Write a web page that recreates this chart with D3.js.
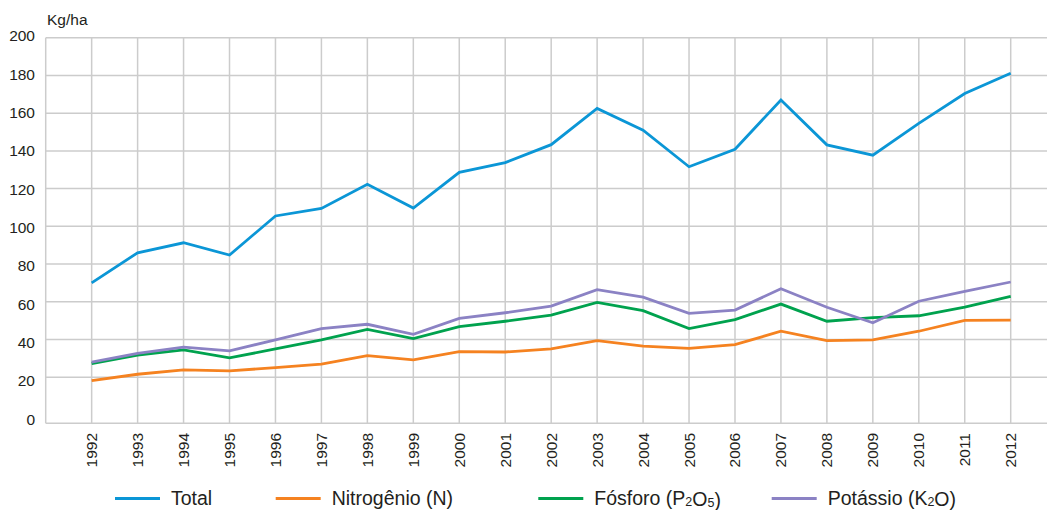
<!DOCTYPE html>
<html lang="pt">
<head>
<meta charset="UTF-8">
<title>Kg/ha</title>
<script src="https://d3js.org/d3.v7.min.js"></script>
<style>
    body { margin: 0; background: #fff; }
    svg { display: block; font-family: "Liberation Sans", Arial, sans-serif; }
    .grid line { stroke: #cccccc; stroke-width: 1.5; }
    .lbl { fill: #231f20; }
</style>
</head>
<body>
<svg id="chart" width="1047" height="510"></svg>
<script>
    const years = [1992, 1993, 1994, 1995, 1996, 1997, 1998, 1999, 2000, 2001, 2002,
                   2003, 2004, 2005, 2006, 2007, 2008, 2009, 2010, 2011, 2012];
    const total     = [70, 86, 91.3, 84.8, 105.5, 109.5, 122.3, 109.7, 128.6, 133.8, 143.3,
                       162.5, 151, 131.6, 140.9, 167, 143.2, 137.7, 154.6, 170.4, 181.2];
    const nitrogenio = [18.2, 21.6, 23.9, 23.4, 25.1, 27, 31.5, 29.2, 33.6, 33.4, 35,
                        39.4, 36.5, 35.3, 37.3, 44.4, 39.4, 39.8, 44.4, 50.2, 50.3];
    const fosforo   = [27.3, 31.8, 34.5, 30.3, 35, 39.8, 45.4, 40.5, 46.8, 49.7, 53,
                       59.7, 55.3, 45.8, 50.6, 58.8, 49.7, 51.6, 52.6, 57.2, 62.9];
    const potassio  = [28, 32.7, 36, 34, 39.8, 45.8, 48.1, 42.8, 51.2, 54.2, 57.7,
                       66.4, 62.5, 53.9, 55.6, 66.9, 57.1, 48.9, 60.3, 65.5, 70.5];
    const yTicks = [0, 20, 40, 60, 80, 100, 120, 140, 160, 180, 200];

    const series = [
        { name: "Total", values: total, color: "#0b96d6" },
        { name: "Nitrogênio (N)", values: nitrogenio, color: "#f58220" },
        { name: "Fósforo (P₂O₅)", values: fosforo, color: "#00a24e" },
        { name: "Potássio (K₂O)", values: potassio, color: "#8b82c4" }
    ];

    const svg = d3.select("#chart");
    const left = 45.7, right = 1047, bottom = 423.3;

    const x = d3.scaleLinear().domain([1991, 2012]).range([left, 1010.7]);
    const y = d3.scaleLinear().domain([0, 200]).range([415, 37.7]);
    // tick labels sit on a slightly wider spacing than the gridlines
    const yLab = d3.scaleLinear().domain([0, 200]).range([419.3, 35.8]);

    const grid = svg.append("g").attr("class", "grid");
    grid.selectAll("line.h")
        .data(yTicks.filter(d => d > 0))
        .enter().append("line")
        .attr("class", "h")
        .attr("x1", left).attr("x2", right)
        .attr("y1", d => y(d)).attr("y2", d => y(d));
    grid.selectAll("line.v")
        .data([1991].concat(years))
        .enter().append("line")
        .attr("class", "v")
        .attr("x1", d => x(d)).attr("x2", d => x(d))
        .attr("y1", y(200)).attr("y2", bottom);
    grid.append("line")
        .attr("x1", left).attr("x2", right)
        .attr("y1", bottom).attr("y2", bottom);

    svg.append("g").selectAll("text")
        .data(yTicks)
        .enter().append("text")
        .attr("class", "lbl")
        .attr("x", 35)
        .attr("y", d => yLab(d))
        .attr("dy", "0.35em")
        .attr("text-anchor", "end")
        .attr("font-size", 15.5)
        .text(d => d);

    svg.append("text")
        .attr("class", "lbl")
        .attr("x", 47).attr("y", 25)
        .attr("font-size", 15.5)
        .text("Kg/ha");

    svg.append("g").selectAll("text")
        .data(years)
        .enter().append("text")
        .attr("class", "lbl")
        .attr("transform", d => `translate(${x(d) + 5.5},433) rotate(-90)`)
        .attr("text-anchor", "end")
        .attr("font-size", 15.5)
        .text(d => d);

    const line = d3.line()
        .x((d, i) => x(years[i]))
        .y(d => y(d));

    svg.append("g").selectAll("path")
        .data(series)
        .enter().append("path")
        .attr("d", d => line(d.values))
        .attr("fill", "none")
        .attr("stroke", d => d.color)
        .attr("stroke-width", 2.8)
        .attr("stroke-linejoin", "miter");

    // legend (nudged up a little so descenders stay inside the frame)
    const legendX = [115, 275.7, 538.3, 771.7];
    const leg = svg.append("g").selectAll("g")
        .data(series)
        .enter().append("g")
        .attr("transform", (d, i) => `translate(${legendX[i]},0)`);
    leg.append("line")
        .attr("x1", 0).attr("x2", 45)
        .attr("y1", 498.5).attr("y2", 498.5)
        .attr("stroke", d => d.color)
        .attr("stroke-width", 2.8);
    const lt = leg.append("text")
        .attr("class", "lbl")
        .attr("x", 56).attr("y", 505)
        .attr("font-size", 19.5);
    lt.each(function(d) {
        const t = d3.select(this);
        // split off subscript digits
        const parts = d.name.split(/([₂₅])/);
        parts.forEach(p => {
            if (p === "₂" || p === "₅") {
                t.append("tspan").attr("font-size", 12.5).attr("dy", 1)
                    .text(p === "₂" ? "2" : "5");
                t.append("tspan").attr("dy", -1).text("");
            } else if (p) {
                t.append("tspan").text(p);
            }
        });
    });
</script>
</body>
</html>
